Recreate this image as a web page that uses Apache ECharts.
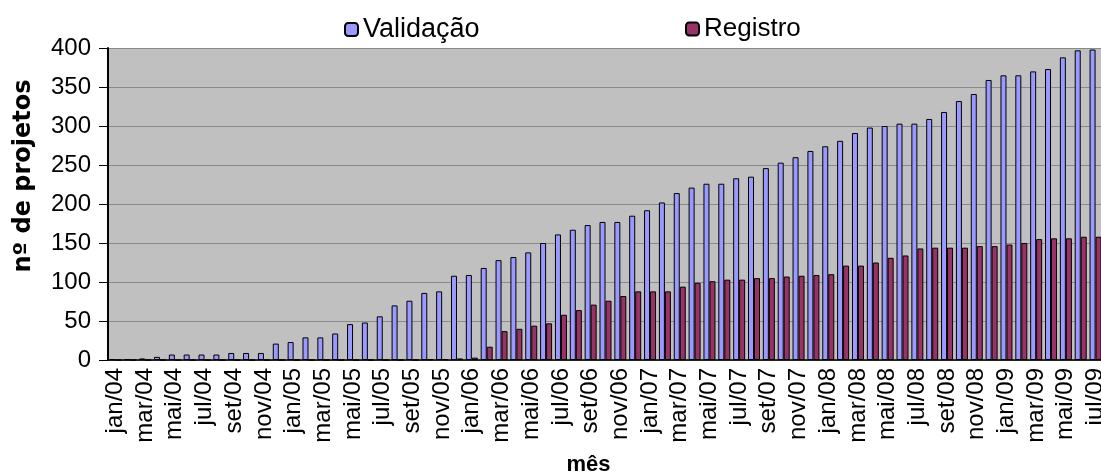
<!DOCTYPE html>
<html lang="pt">

<head>
    <meta charset="UTF-8">
    <title>projetos por mês</title>
    <script src="https://cdn.jsdelivr.net/npm/echarts@6/dist/echarts.min.js"></script>
    <style>
        html, body { margin: 0; padding: 0; background: #fff; }
        #main { width: 1101px; height: 474px; }
    </style>
</head>

<body>
    <div id="main"></div>

    <script>
        // meses (jan/04 .. jul/09)
        var meses = [
            'jan/04', 'fev/04', 'mar/04', 'abr/04', 'mai/04', 'jun/04', 'jul/04', 'ago/04', 'set/04', 'out/04', 'nov/04', 'dez/04',
            'jan/05', 'fev/05', 'mar/05', 'abr/05', 'mai/05', 'jun/05', 'jul/05', 'ago/05', 'set/05', 'out/05', 'nov/05', 'dez/05',
            'jan/06', 'fev/06', 'mar/06', 'abr/06', 'mai/06', 'jun/06', 'jul/06', 'ago/06', 'set/06', 'out/06', 'nov/06', 'dez/06',
            'jan/07', 'fev/07', 'mar/07', 'abr/07', 'mai/07', 'jun/07', 'jul/07', 'ago/07', 'set/07', 'out/07', 'nov/07', 'dez/07',
            'jan/08', 'fev/08', 'mar/08', 'abr/08', 'mai/08', 'jun/08', 'jul/08', 'ago/08', 'set/08', 'out/08', 'nov/08', 'dez/08',
            'jan/09', 'fev/09', 'mar/09', 'abr/09', 'mai/09', 'jun/09', 'jul/09'
        ];

        // projetos em validação
        var validacao = [
            1, 1, 2, 4, 7, 7, 7, 7, 9, 9, 9, 21,
            23, 29, 29, 34, 46, 48, 56, 70, 76, 86, 88, 108,
            109, 118, 128, 132, 138, 150, 161, 167, 173, 177, 177, 185,
            192, 202, 214, 221, 226, 226, 233, 235, 246, 253, 260, 268,
            274, 281, 291, 298, 300, 303, 303, 309, 318, 332, 341, 359,
            365, 365, 370, 373, 388, 397, 398
        ];

        // projetos registrados
        var registro = [
            0, 0, 0, 0, 0, 0, 0, 0, 0, 0, 0, 0,
            0, 0, 0, 0, 0, 0, 0, 0, 0, 1, 1, 2,
            3, 17, 37, 40, 44, 47, 58, 64, 71, 76, 82, 88,
            88, 88, 94, 99, 101, 103, 103, 105, 105, 107, 108, 109,
            110, 121, 121, 125, 131, 134, 143, 144, 144, 144, 146, 146,
            148, 150, 155, 156, 156, 158, 158
        ];

        // escala do eixo y
        var yMin = 0, yMax = 400, yPasso = 50;

        var fonte = '"Liberation Sans", Arial, sans-serif';

        var myChart = echarts.init(document.getElementById('main'));

        var option = {
            animation: false,
            textStyle: { fontFamily: fonte, color: '#000' },
            legend: [{
                data: ['Validação'],
                left: 339,
                top: 11,
                itemWidth: 13,
                itemHeight: 13,
                itemGap: 6,
                textStyle: { fontSize: 27, color: '#000', fontFamily: fonte }
            }, {
                data: ['Registro'],
                left: 680,
                top: 11,
                itemWidth: 13,
                itemHeight: 13,
                itemGap: 6,
                textStyle: { fontSize: 26, color: '#000', fontFamily: fonte }
            }],
            grid: {
                left: 108,
                top: 48,
                width: 995,
                height: 312,
                outerBoundsMode: 'none', // o gráfico passa um pouco da borda direita
                show: true,
                backgroundColor: '#C0C0C0',
                borderWidth: 0
            },
            xAxis: {
                type: 'category',
                data: meses,
                name: 'mês',
                nameLocation: 'middle',
                nameGap: 94,
                nameTextStyle: { fontSize: 22, fontWeight: 'bold', color: '#000', padding: [0, 34, 0, 0] },
                axisLine: { lineStyle: { color: '#000', width: 1.5 } },
                axisTick: { interval: 1, length: 6, lineStyle: { color: '#000' } },
                axisLabel: {
                    interval: 1,
                    rotate: 90,
                    margin: 8,
                    fontSize: 24,
                    color: '#000'
                }
            },
            yAxis: {
                type: 'value',
                min: yMin,
                max: yMax,
                interval: yPasso,
                name: 'nº de projetos',
                nameLocation: 'middle',
                nameGap: 72,
                nameTextStyle: {
                    fontSize: 24,
                    fontWeight: 'bold',
                    color: '#000',
                    fontFamily: '"DejaVu Sans", sans-serif',
                    padding: [0, 0, 0, 56]
                },
                axisLine: { show: true, lineStyle: { color: '#000', width: 2 } },
                axisTick: { show: true, length: 9, lineStyle: { color: '#000' } },
                axisLabel: { margin: 17, fontSize: 24, color: '#000' },
                splitLine: { lineStyle: { color: '#8a8a8a', width: 1 } }
            },
            series: [{
                name: 'Validação',
                type: 'bar',
                data: validacao,
                barWidth: 6,
                barGap: '0%',
                itemStyle: { color: '#9999FF', borderColor: '#000', borderWidth: 1 }
            }, {
                name: 'Registro',
                type: 'bar',
                data: registro,
                barWidth: 6,
                itemStyle: { color: '#993366', borderColor: '#000', borderWidth: 1 }
            }]
        };

        myChart.setOption(option);
    </script>
</body>

</html>
